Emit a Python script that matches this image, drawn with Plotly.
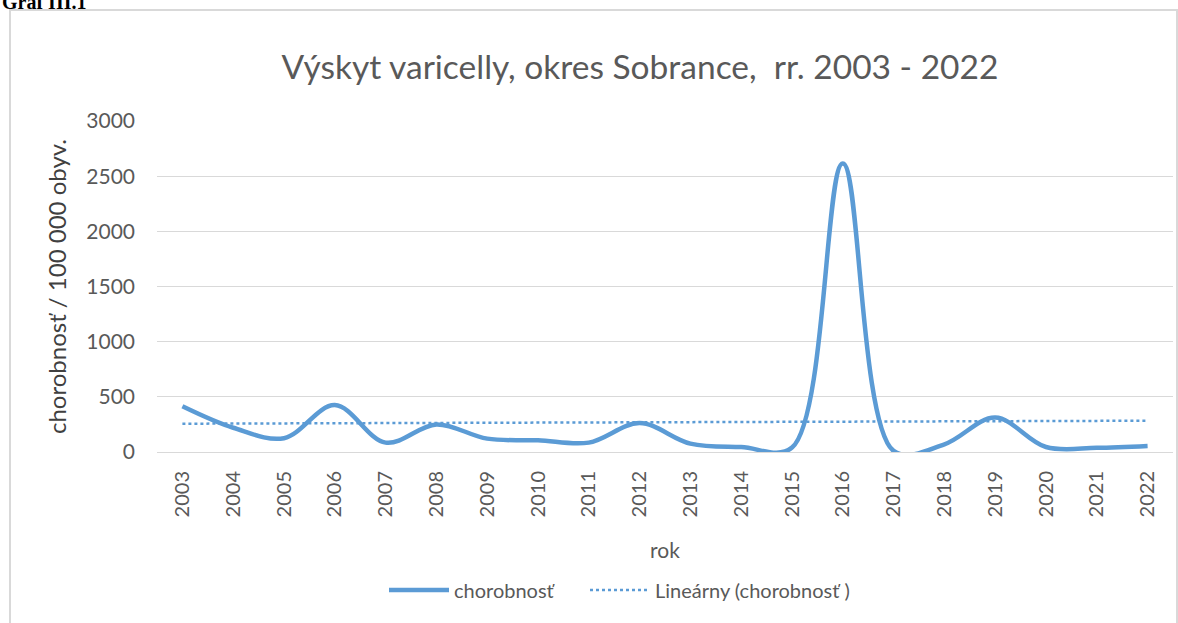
import numpy as np
import plotly.graph_objects as go

years = [str(y) for y in range(2003, 2023)]
chorobnost = [415, 220, 125, 425, 85, 250, 121, 106, 85, 262, 76, 45, 40, 2615, 10, 70, 312, 45, 38, 55]
y_ticks = [0, 500, 1000, 1500, 2000, 2500, 3000]

title_text = "Výskyt varicelly, okres Sobrance,  rr. 2003 - 2022"
y_title = "chorobnosť / 100 000 obyv."
x_title = "rok"
legend_main = "chorobnosť"
legend_trend = "Lineárny (chorobnosť )"

# linear trendline from data
xi = np.arange(len(chorobnost))
slope, intercept = np.polyfit(xi, chorobnost, 1)
trend = list(slope * xi + intercept)

W, H = 1178, 623
L, R, T, B = 157, 5, 121, 171
pw, ph = W - L - R, H - T - B

def px_x(p):
    return (p - L) / pw

def px_y(p):
    return (H - B - p) / ph

FONT = "Lato"
GREY = "#595959"
BLUE = "#5B9BD5"

fig = go.Figure()
fig.add_trace(go.Scatter(
    x=years, y=chorobnost, mode="lines", name=legend_main, legend="legend",
    line=dict(color=BLUE, width=4.5, shape="spline", smoothing=1.0),
))
fig.add_trace(go.Scatter(
    x=years, y=trend, mode="lines", name=legend_trend, legend="legend2",
    line=dict(color=BLUE, width=2.5, dash="dot"),
))

leg_common = dict(orientation="h", yanchor="middle", y=px_y(590), xanchor="left",
                  font=dict(family=FONT, size=20, color=GREY), itemwidth=60,
                  bgcolor="rgba(0,0,0,0)")

fig.update_layout(
    width=W, height=H,
    margin=dict(l=L, r=R, t=T, b=B),
    paper_bgcolor="white", plot_bgcolor="white",
    font=dict(family=FONT, color=GREY),
    title=dict(text=title_text, x=640 / W, xref="container", xanchor="center",
               y=1 - 67 / H, yref="container", yanchor="middle",
               font=dict(family=FONT, size=33.5, color=GREY)),
    showlegend=True,
    legend=dict(x=px_x(384), **leg_common),
    legend2=dict(x=px_x(585), **leg_common),
    xaxis=dict(type="category", range=[-0.5, len(years) - 0.5], tickangle=-90,
               showgrid=False, zeroline=False,
               showline=False, ticks="outside", ticklen=10, tickcolor="rgba(0,0,0,0)",
               tickfont=dict(family=FONT, size=20, color=GREY),
               title=dict(text=x_title, font=dict(family=FONT, size=21, color=GREY), standoff=26)),
    yaxis=dict(range=[0, 3000], tickvals=y_ticks, showgrid=True, gridcolor="#D9D9D9",
               gridwidth=1, zeroline=True, zerolinecolor="#D9D9D9", zerolinewidth=1,
               showline=False, ticks="", ticklabelstandoff=21,
               tickfont=dict(family=FONT, size=21, color=GREY),
               title=dict(text=y_title, font=dict(family=FONT, size=24, color="#404040"), standoff=12)),
)

# outer chart frame
fig.add_shape(type="rect", xref="paper", yref="paper",
              x0=px_x(10), x1=px_x(1177), y0=px_y(640), y1=px_y(10),
              line=dict(color="#D9D9D9", width=2), fillcolor="rgba(0,0,0,0)", layer="below")

fig.add_annotation(text="<b>Graf III.1</b>", xref="paper", yref="paper",
                   x=px_x(0), xanchor="left", y=px_y(15), yanchor="bottom",
                   showarrow=False, font=dict(family="Liberation Serif", size=20, color="black"))

fig.write_html("out.html", config={"displayModeBar": False},
               post_script="document.body.style.margin='0';")
